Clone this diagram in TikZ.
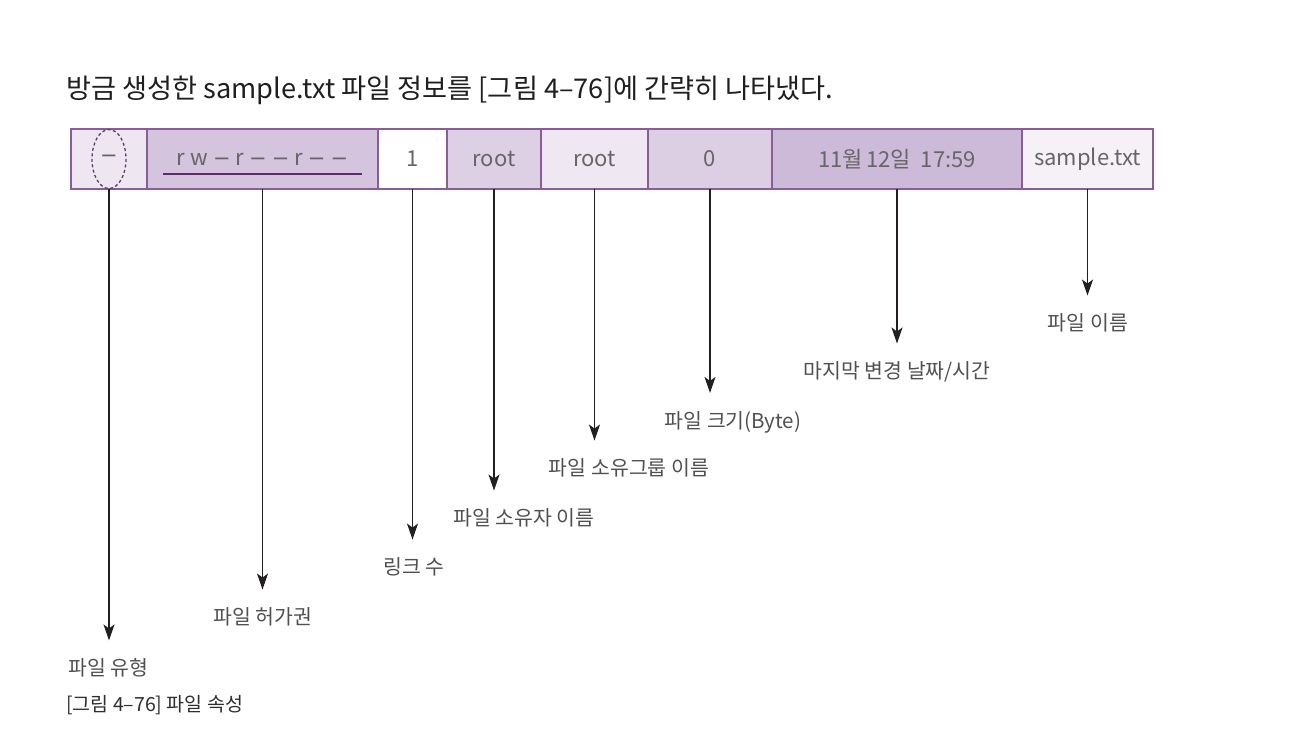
\documentclass[tikz,border=0pt]{standalone}
\usepackage{fontspec}
\setmainfont{Noto Sans CJK KR}
\newfontfamily\dashfont{DejaVu Sans}
\usetikzlibrary{arrows.meta, positioning}
\definecolor{cellborder}{HTML}{8B5C9A}
\definecolor{celltext}{HTML}{666666}
\definecolor{labtext}{HTML}{505050}
\definecolor{arrowline}{HTML}{231F20}
\definecolor{ellipseline}{HTML}{5B3F6B}
\definecolor{ulinecol}{HTML}{5B2E6A}
\definecolor{ftype}{HTML}{EEE6F1}
\definecolor{fperm}{HTML}{D4C4DD}
\definecolor{fowner}{HTML}{DDD0E4}
\definecolor{fgroup}{HTML}{EFE8F2}
\definecolor{fsize}{HTML}{DCCFE4}
\definecolor{fdate}{HTML}{CDB9D8}
\definecolor{fname}{HTML}{F5F1F7}
\newcommand{\mn}{{\dashfont\fontsize{21}{21}\selectfont −}}
\newcommand{\gp}{\hspace{5pt}}

\begin{document}
\begin{tikzpicture}[x=1pt, y=-1pt,
    cell/.style={draw=cellborder, line width=1.2pt, minimum height=60pt, inner sep=0pt, outer sep=0pt, text=celltext, font=\fontsize{22}{22}\selectfont},
    arr/.style={-{Stealth[length=16pt, width=11pt, inset=4pt]}, line width=1.2pt, draw=arrowline, shorten >=18pt},
    lab/.style={inner sep=0pt, text=labtext, font=\fontsize{20.5}{21}\selectfont}]
    \useasboundingbox (0,0) rectangle (1300,740);
    \node[anchor=west, inner sep=0pt, text=black!88, font=\fontsize{27.2}{28}\selectfont] (intro) at (66,90) {방금 생성한 sample.txt 파일 정보를 [그림 4–76]에 간략히 나타냈다.};

    \node[cell, fill=ftype, minimum width=76pt, anchor=west] (ctype) at (71,159) {\mn};
    \node[cell, fill=fperm, minimum width=231pt, right=0pt of ctype] (cperm) {r\gp w\gp\mn\gp r\gp\mn\gp\mn\gp r\gp\mn\gp\mn};
    \node[cell, fill=white, minimum width=69pt, right=0pt of cperm] (clink) {1};
    \node[cell, fill=fowner, minimum width=94pt, right=0pt of clink] (cowner) {root};
    \node[cell, fill=fgroup, minimum width=107pt, right=0pt of cowner] (cgroup) {root};
    \node[cell, fill=fsize, minimum width=124pt, right=0pt of cgroup] (csize) {0};
    \node[cell, fill=fdate, minimum width=250pt, right=0pt of csize] (cdate) {11월\,12일\ \ 17:59};
    \node[cell, fill=fname, minimum width=131pt, right=0pt of cdate] (cname) {sample.txt};

    \draw[draw=ellipseline, line width=1.3pt, dash pattern=on 3pt off 2.5pt] (ctype.center) ellipse [x radius=17, y radius=29.5];
    \draw[draw=ulinecol, line width=2.4pt] ([xshift=16pt, yshift=-15pt]cperm.west) -- ([xshift=-16pt, yshift=-15pt]cperm.east);

    \node[lab, anchor=west] (ltype) at (68,668) {파일 유형};
    \node[lab] (lperm) at (263,617) {파일 허가권};
    \node[lab] (llink) at (414,567) {링크 수};
    \node[lab] (lowner) at (524,518) {파일 소유자 이름};
    \node[lab] (lgroup) at (629,468) {파일 소유그룹 이름};
    \node[lab] (lsize) at (733,422) {파일 크기(Byte)};
    \node[lab] (ldate) at (897,372) {마지막 변경 날짜/시간};
    \node[lab] (lname) at (1088,323) {파일 이름};

    \foreach \c/\l in {ctype/ltype, cperm/lperm, clink/llink, cowner/lowner, cgroup/lgroup, csize/lsize, cdate/ldate, cname/lname}
        \draw[arr] (\c.south) -- (\c.south |- \l.north);

    \node[anchor=west, inner sep=0pt, text=black!82, font=\fontsize{19.5}{20}\selectfont] (caption) at (66,705) {[그림 4–76] 파일 속성};
\end{tikzpicture}
\end{document}
